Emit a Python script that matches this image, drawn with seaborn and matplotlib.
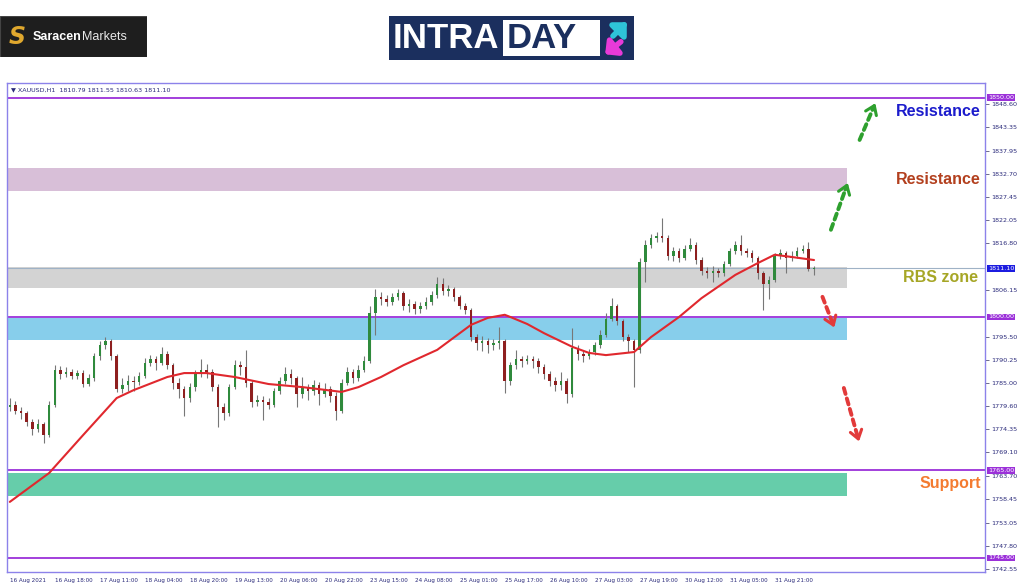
import matplotlib
matplotlib.use("Agg")
import matplotlib.pyplot as plt
import matplotlib.transforms as mtransforms
from matplotlib.patches import Rectangle
import seaborn as sns
import numpy as np
import pandas as pd

first_open = 1779.5
closes = [
    1780.0, 1778.5, 1778.0, 1776.0, 1774.5, 1775.5, 1773.0, 1780.0, 1788.0, 1787.0,
    1787.5, 1786.5, 1787.2, 1784.8, 1786.0, 1791.0, 1793.5, 1794.5, 1791.0, 1783.5,
    1784.5, 1785.5, 1785.2, 1786.5, 1789.5, 1790.5, 1789.5, 1791.5, 1789.0, 1785.0,
    1783.5, 1781.5, 1784.0, 1787.0, 1788.0, 1787.5, 1784.0, 1779.5, 1778.0, 1784.0,
    1789.0, 1788.5, 1785.0, 1780.5, 1781.0, 1780.5, 1780.0, 1783.0, 1785.5, 1787.0,
    1786.0, 1782.5, 1784.0, 1783.0, 1784.5, 1782.5, 1783.5, 1782.0, 1778.5, 1785.0,
    1787.5, 1786.0, 1788.0, 1790.0, 1801.0, 1804.5, 1804.0, 1803.5, 1804.5, 1805.5,
    1802.5, 1803.0, 1801.8, 1802.5, 1803.5, 1805.0, 1807.5, 1806.0, 1806.3, 1804.5,
    1802.5, 1801.5, 1795.5, 1794.0, 1794.5, 1793.5, 1794.0, 1794.5, 1785.5, 1789.0,
    1790.5, 1790.0, 1790.5, 1790.0, 1788.5, 1787.0, 1785.5, 1784.5, 1785.5, 1782.5,
    1793.0, 1791.5, 1791.0, 1792.0, 1793.5, 1796.0, 1799.5, 1802.5, 1799.0, 1795.5,
    1794.5, 1792.5, 1812.5, 1816.5, 1818.0, 1818.5, 1818.0, 1814.0, 1815.0, 1813.5,
    1815.5, 1816.5, 1813.0, 1810.5, 1810.0, 1810.5, 1810.0, 1812.0, 1815.0, 1816.5,
    1815.0, 1814.5, 1813.5, 1810.0, 1807.5, 1808.5, 1814.0, 1814.5, 1813.5, 1814.0,
    1815.0, 1815.5, 1811.0, 1811.1,
]
highs = [
    1781.5, 1780.8, 1779.5, 1778.6, 1776.8, 1776.8, 1776.0, 1780.8, 1789.0, 1788.8,
    1788.5, 1788.2, 1788.0, 1787.8, 1786.9, 1791.8, 1794.5, 1795.4, 1795.0, 1791.5,
    1786.0, 1786.8, 1786.6, 1787.5, 1790.6, 1791.4, 1791.2, 1793.2, 1792.3, 1789.6,
    1786.0, 1784.2, 1785.0, 1788.0, 1790.4, 1789.2, 1788.2, 1784.6, 1780.4, 1784.8,
    1790.2, 1790.0, 1792.5, 1785.6, 1782.2, 1782.0, 1781.4, 1783.8, 1786.4, 1788.5,
    1788.2, 1786.6, 1786.3, 1784.8, 1785.6, 1785.2, 1785.0, 1784.2, 1782.8, 1785.8,
    1788.6, 1788.2, 1789.0, 1791.0, 1802.5, 1806.3, 1805.6, 1805.0, 1805.4, 1806.5,
    1806.0, 1804.2, 1803.6, 1803.5, 1804.5, 1806.0, 1809.2, 1809.0, 1807.2, 1806.8,
    1805.0, 1803.2, 1802.0, 1796.2, 1795.6, 1795.2, 1795.0, 1797.8, 1795.0, 1789.8,
    1792.5, 1791.2, 1791.4, 1791.0, 1790.6, 1789.2, 1787.6, 1786.2, 1787.5, 1786.0,
    1797.6, 1793.6, 1792.4, 1792.8, 1794.4, 1797.0, 1800.8, 1804.4, 1803.0, 1799.6,
    1796.2, 1795.0, 1813.4, 1817.5, 1819.0, 1819.4, 1822.7, 1818.6, 1816.0, 1815.8,
    1816.4, 1818.0, 1817.0, 1813.6, 1811.4, 1811.6, 1811.2, 1812.8, 1815.8, 1817.4,
    1818.7, 1815.8, 1815.2, 1814.0, 1810.6, 1809.4, 1814.6, 1815.6, 1815.0, 1815.0,
    1816.0, 1816.4, 1817.0, 1811.6,
]
lows = [
    1778.5, 1777.8, 1776.8, 1775.2, 1773.0, 1773.8, 1771.3, 1772.5, 1779.5, 1785.8,
    1786.2, 1785.8, 1785.9, 1784.0, 1784.2, 1785.5, 1790.2, 1792.8, 1790.2, 1782.8,
    1782.6, 1783.0, 1783.2, 1784.5, 1786.0, 1788.8, 1788.0, 1789.0, 1788.2, 1783.6,
    1781.5, 1777.3, 1780.6, 1783.2, 1786.2, 1786.0, 1783.0, 1774.8, 1776.4, 1777.4,
    1783.5, 1786.8, 1784.0, 1779.4, 1779.6, 1776.5, 1779.0, 1779.5, 1782.4, 1784.8,
    1784.6, 1779.5, 1781.6, 1781.0, 1782.2, 1780.0, 1781.8, 1780.6, 1776.5, 1778.0,
    1784.4, 1785.0, 1785.4, 1787.4, 1789.5, 1795.8, 1802.8, 1802.5, 1802.8, 1803.8,
    1801.6, 1801.2, 1800.6, 1801.0, 1801.8, 1802.8, 1804.4, 1805.0, 1804.8, 1803.6,
    1801.8, 1800.6, 1794.6, 1792.5, 1792.2, 1791.8, 1792.4, 1792.8, 1782.6, 1784.4,
    1788.2, 1788.6, 1789.2, 1788.4, 1787.2, 1785.8, 1784.2, 1783.0, 1783.4, 1780.4,
    1781.8, 1790.2, 1789.8, 1790.4, 1791.4, 1793.0, 1795.4, 1799.0, 1798.2, 1794.6,
    1792.0, 1784.0, 1791.8, 1808.0, 1815.8, 1817.2, 1817.0, 1813.0, 1812.8, 1812.6,
    1813.0, 1815.0, 1812.2, 1809.6, 1809.0, 1808.0, 1809.2, 1809.4, 1811.6, 1814.4,
    1814.2, 1813.6, 1812.6, 1808.6, 1801.6, 1804.0, 1808.0, 1813.2, 1810.0, 1812.8,
    1813.4, 1814.6, 1810.4, 1809.6,
]

# red moving average, read at a few bars
ma_bars = [0, 7, 13, 19, 22, 28, 31, 35, 40, 46, 52, 59, 62, 66, 70, 76, 82, 85,
           88, 89, 92, 95, 100, 103, 106, 111, 114, 119, 123, 129, 133, 136, 139, 143]
ma_values = [1757.8, 1764.4, 1773.0, 1781.5, 1783.3, 1786.3, 1787.2, 1787.2, 1786.3,
             1784.7, 1784.0, 1782.9, 1784.0, 1786.3, 1789.0, 1792.5, 1798.2, 1799.8,
             1800.5, 1800.0, 1798.4, 1796.3, 1793.2, 1791.8, 1791.3, 1792.0, 1795.4,
             1800.0, 1804.3, 1809.6, 1812.3, 1814.2, 1813.7, 1813.0]

tick_bars = list(range(0, 137, 8))
tick_labels = ["16 Aug 2021", "16 Aug 18:00", "17 Aug 11:00", "18 Aug 04:00",
               "18 Aug 20:00", "19 Aug 13:00", "20 Aug 06:00", "20 Aug 22:00",
               "23 Aug 15:00", "24 Aug 08:00", "25 Aug 01:00", "25 Aug 17:00",
               "26 Aug 10:00", "27 Aug 03:00", "27 Aug 19:00", "30 Aug 12:00",
               "31 Aug 05:00", "31 Aug 21:00"]
price_ticks = [1848.60, 1843.35, 1837.95, 1832.70, 1827.45, 1822.05, 1816.80,
               1806.15, 1795.50, 1790.25, 1785.00, 1779.60, 1774.35, 1769.10,
               1763.70, 1758.45, 1753.05, 1747.80, 1742.55]

level_lines = [1850.0, 1800.0, 1765.0, 1745.0]
last_price = 1811.10
zones = {
    "thistle": (1828.8, 1834.0, "#d8bfd8"),
    "rbs": (1806.6, 1811.3, "#d3d3d3"),
    "blue": (1794.7, 1799.8, "#87ceeb"),
    "green": (1759.1, 1764.4, "#66cdaa"),
}

sns.set_theme(style="white")
plt.rcParams["font.family"] = ["DejaVu Sans"]

df = pd.DataFrame({"close": closes, "high": highs, "low": lows})
df["open"] = [first_open] + closes[:-1]
df["bar"] = np.arange(len(df))
df["up"] = df["close"] >= df["open"]

fig = plt.figure(figsize=(10.24, 5.87), dpi=100)
fig.patch.set_facecolor("white")
ax = fig.add_axes([7 / 1024, 15 / 587, 978 / 1024, 489 / 587])
ax.set_facecolor("white")

ax.set_xlim(-0.5, 173.4)
ax.set_ylim(1741.8, 1853.4)

zone_frac = 0.859
for lo, hi, col in zones.values():
    ax.axhspan(lo, hi, xmin=0, xmax=zone_frac, color=col, lw=0, zorder=0)

ax.axhline(last_price, color="#9fb2c6", lw=0.8, zorder=1)
for lvl in level_lines:
    ax.axhline(lvl, color="#9b30d9", lw=1.3, zorder=1)

# candles
ax.vlines(df["bar"], df["low"], df["high"], color="#777777", lw=0.8, zorder=2)
body = (df["close"] - df["open"]).abs().clip(lower=0.25)
bottom = df[["open", "close"]].min(axis=1)
ax.bar(df["bar"], body, bottom=bottom, width=0.45,
       color=np.where(df["up"], "#2f8a3c", "#8e1f1f"), lw=0, zorder=3)

ma = pd.DataFrame({"bar": ma_bars, "ma": ma_values})
sns.lineplot(data=ma, x="bar", y="ma", ax=ax, color="#e0282e", lw=1.5, zorder=4)
ax.set_xlabel("")
ax.set_ylabel("")

# axes styling
frame = "#8c82ea"
for s in ax.spines.values():
    s.set_color(frame)
    s.set_linewidth(1.0)
ax.yaxis.tick_right()
ax.set_yticks(price_ticks)
ax.set_yticklabels([f"{v:.2f}" for v in price_ticks])
ax.set_xticks(tick_bars)
ax.set_xticklabels(tick_labels, ha="left")
ax.tick_params(axis="both", direction="out", length=3, width=0.6, color="#555577",
               labelsize=4.6, labelcolor="#2a2a7a", pad=1.5)
ax.tick_params(axis="x", labelsize=4.1)

# highlighted price tags on the scale
ytrans = mtransforms.blended_transform_factory(ax.transAxes, ax.transData)
for lvl in level_lines:
    ax.text(1.003, lvl, f"{lvl:.2f}", transform=ytrans, fontsize=4.6, color="white",
            va="center", ha="left",
            bbox=dict(boxstyle="square,pad=0.15", fc="#9b30d9", ec="none"))
ax.text(1.003, last_price, f"{last_price:.2f}", transform=ytrans, fontsize=4.6,
        color="white", va="center", ha="left",
        bbox=dict(boxstyle="square,pad=0.15", fc="#1c1ce0", ec="none"))

ax.text(0.004, 0.992, "\u25bc XAUUSD,H1  1810.79 1811.55 1810.63 1811.10",
        transform=ax.transAxes, fontsize=4.6, color="#2a2a7a", va="top", ha="left")

# zone captions
lbl = dict(transform=ytrans, ha="right", va="center", fontsize=11.5,
           fontweight="bold", family=["Liberation Sans", "DejaVu Sans"])
ax.text(0.996, 1847.0, "Resistance", color="#1c1ccc", **lbl)
ax.text(0.996, 1831.3, "Resistance", color="#b3401e", **lbl)
ax.text(0.993, 1809.1, "RBS zone", color="#a6a626", **lbl)
ax.text(0.996, 1762.1, "Support", color="#f47b30", **lbl)

# projected moves: dashed shaft + solid head
def dashed_arrow(start, end, color):
    ax.annotate("", xy=end, xytext=start,
                arrowprops=dict(arrowstyle="-", color=color, lw=2.8,
                                ls=(0, (1.6, 1.2)), shrinkA=0, shrinkB=3), zorder=5)
    mid = (end[0] - 0.15 * (end[0] - start[0]), end[1] - 0.15 * (end[1] - start[1]))
    ax.annotate("", xy=end, xytext=mid,
                arrowprops=dict(arrowstyle="->,head_width=0.35,head_length=0.5",
                                color=color, lw=2.2, shrinkA=0, shrinkB=0), zorder=5)

dashed_arrow((146.0, 1819.9), (149.0, 1830.6), "#2ea02e")
dashed_arrow((151.1, 1840.4), (153.9, 1848.8), "#2ea02e")
dashed_arrow((144.5, 1804.6), (146.6, 1797.6), "#e23a3a")
dashed_arrow((148.3, 1783.8), (151.0, 1771.6), "#e23a3a")

# logos
lg1 = fig.add_axes([0, (587 - 57) / 587, 147 / 1024, 41 / 587])
lg1.set_xlim(0, 147)
lg1.set_ylim(0, 41)
lg1.axis("off")
lg1.add_patch(Rectangle((0, 0), 147, 41, fc="#1e1e1e", ec="#444444", lw=0.8))
lg1.text(17, 20, "S", color="#e0a82e", fontsize=17, fontweight="bold",
         style="italic", ha="center", va="center")
lg1.text(33, 20, "Saracen", color="white", fontsize=9, fontweight="bold",
         family=["Liberation Sans", "DejaVu Sans"], ha="left", va="center")
lg1.text(82, 20, "Markets", color="#e8e8e8", fontsize=9,
         family=["Liberation Sans", "DejaVu Sans"], ha="left", va="center")

lg2 = fig.add_axes([389 / 1024, (587 - 60) / 587, 245 / 1024, 44 / 587])
lg2.set_xlim(0, 245)
lg2.set_ylim(0, 44)
lg2.axis("off")
lg2.add_patch(Rectangle((0, 0), 245, 44, fc="#1b2f5e", ec="none"))
lg2.add_patch(Rectangle((114, 4), 97, 36, fc="white", ec="none"))
lg2.text(4, 21, "INTRA", color="white", fontsize=25, fontweight="bold",
         family=["Liberation Sans", "DejaVu Sans"], ha="left", va="center")
lg2.text(118, 21, "DAY", color="#1b2f5e", fontsize=25, fontweight="bold",
         family=["Liberation Sans", "DejaVu Sans"], ha="left", va="center")
lg2.annotate("", xy=(240, 40), xytext=(222, 22),
             arrowprops=dict(arrowstyle="-|>,head_width=0.5,head_length=0.5",
                             color="#2ec4d8", lw=4))
lg2.annotate("", xy=(214, 4), xytext=(234, 20),
             arrowprops=dict(arrowstyle="-|>,head_width=0.5,head_length=0.5",
                             color="#e83ad8", lw=4))

fig.savefig("out.png", dpi=100)
